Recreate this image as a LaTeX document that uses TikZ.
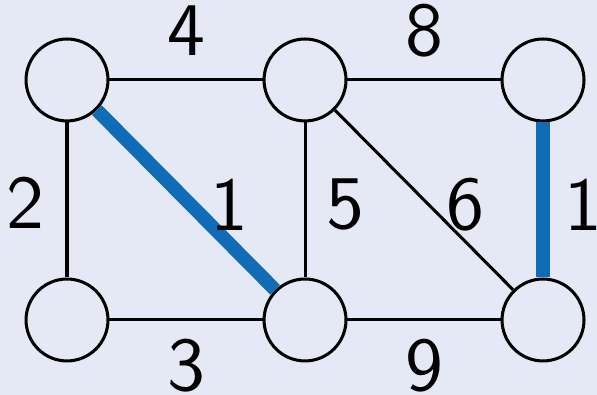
\documentclass[tikz,border=0pt]{standalone}
\usepackage{tikz}
\definecolor{bgblue}{RGB}{228,233,245}
\definecolor{treeblue}{RGB}{16,108,182}

\begin{document}
\begin{tikzpicture}[
    x=0.00464cm, y=-0.00464cm,
    font=\sffamily,
    vertex/.style={circle, draw, line width=0.4pt, minimum size=0.38cm, inner sep=0pt},
    edge/.style={line width=0.4pt},
    tree/.style={line width=1.8pt, treeblue},
    wt/.style={inner sep=0pt},
]

% background
\fill[bgblue] (0,0) rectangle (597,395);
\useasboundingbox (0,0) rectangle (597,395);

% vertices
\node[vertex] (a) at (67,80) {};
\node[vertex] (b) at (305,80) {};
\node[vertex] (c) at (543,80) {};
\node[vertex] (d) at (67,320) {};
\node[vertex] (e) at (305,320) {};
\node[vertex] (f) at (543,320) {};

% edges with weights
\draw[edge] (a) -- node[wt, midway, yshift=0.227cm] {4} (b);
\draw[edge] (b) -- node[wt, midway, yshift=0.227cm] {8} (c);
\draw[edge] (a) -- node[wt, midway, xshift=-0.195cm, yshift=-0.014cm] {2} (d);
\draw[edge] (b) -- node[wt, midway, xshift=0.186cm, yshift=-0.023cm] {5} (e);
\draw[edge] (b) -- node[wt, midway, xshift=0.19cm, yshift=-0.023cm] {6} (f);
\draw[edge] (d) -- node[wt, midway, yshift=-0.212cm] {3} (e);
\draw[edge] (e) -- node[wt, midway, yshift=-0.212cm] {9} (f);

% chosen edges
\draw[tree] (a) -- node[wt, black, midway, xshift=0.2cm, yshift=-0.023cm] {1} (e);
\draw[tree] (c) -- node[wt, black, midway, xshift=0.186cm, yshift=-0.023cm] {1} (f);

\end{tikzpicture}
\end{document}
